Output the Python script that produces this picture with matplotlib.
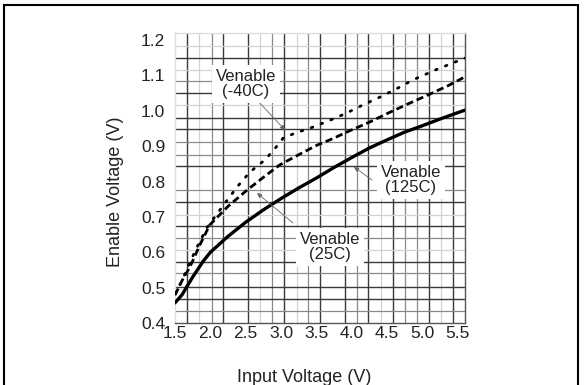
import numpy as np
import matplotlib.pyplot as plt
from matplotlib.patches import Rectangle

plt.rcParams['font.family'] = ['Liberation Sans', 'DejaVu Sans']

# input voltage (V) and enable voltage (V)
vin_25 = [1.50, 1.60, 1.75, 1.90, 2.00, 2.25, 2.50, 2.75, 3.00, 3.25, 3.50,
          3.75, 4.00, 4.25, 4.50, 4.75, 5.00, 5.25, 5.60]
ven_25 = [0.457, 0.480, 0.530, 0.575, 0.600, 0.645, 0.685, 0.720, 0.752, 0.782, 0.810,
          0.840, 0.868, 0.895, 0.918, 0.940, 0.958, 0.977, 1.002]

vin_125 = [1.50, 1.60, 1.71, 1.85, 1.99, 2.25, 2.52, 2.75, 2.98, 3.25, 3.51,
           3.75, 3.93, 4.25, 4.55, 4.80, 5.08, 5.35, 5.60]
ven_125 = [0.479, 0.520, 0.558, 0.620, 0.677, 0.730, 0.776, 0.812, 0.847, 0.876, 0.903,
           0.923, 0.940, 0.968, 0.997, 1.020, 1.045, 1.070, 1.096]

vin_m40 = [1.50, 1.60, 1.68, 1.80, 1.95, 2.10, 2.24, 2.40, 2.56, 2.77, 2.90, 3.03,
           3.20, 3.45, 3.70, 3.93, 4.15, 4.40, 4.63, 4.86, 5.20, 5.60]
ven_m40 = [0.482, 0.520, 0.558, 0.610, 0.669, 0.710, 0.748, 0.790, 0.827, 0.861, 0.890, 0.923,
           0.937, 0.954, 0.974, 0.994, 1.016, 1.039, 1.062, 1.087, 1.117, 1.149]

x_ticks = [1.5, 2.0, 2.5, 3.0, 3.5, 4.0, 4.5, 5.0, 5.5]
y_ticks = [0.4, 0.5, 0.6, 0.7, 0.8, 0.9, 1.0, 1.1, 1.2]

W, H = 584, 385
L, R, T, B = 175, 465, 33, 323


def px_x(p):
    return (p - L) / (R - L)


def px_y(p):
    return (B - p) / (B - T)


fig = plt.figure(figsize=(W / 100, H / 100), dpi=100)
ax = fig.add_axes([L / W, 1 - B / H, (R - L) / W, (B - T) / H])
ax.set_xlim(1.5, 5.6)
ax.set_ylim(0.4, 1.22)

# irregular scanned-style grid (pixel positions)
v_dark = [187, 223, 248, 284, 320, 345, 368, 393, 429, 453]
v_mid = [212, 272, 308, 357, 405, 417]
v_light = [199, 260, 297, 381, 441]
h_dark = [58, 93, 118, 129, 166, 202, 226, 262, 287, 299]
h_mid = [81, 142, 155, 190, 238, 273, 311]
h_light = [46, 70, 105, 215, 250]

for lines, col, lw in [(v_light, '#d2d2d2', 0.9), (v_mid, '#8a8a8a', 0.9), (v_dark, '#3a3a3a', 1.0)]:
    for p in lines:
        ax.plot([px_x(p)] * 2, [0, 1], color=col, lw=lw, transform=ax.transAxes, zorder=1)
for lines, col, lw in [(h_light, '#d2d2d2', 0.9), (h_mid, '#8a8a8a', 0.9), (h_dark, '#3a3a3a', 1.0)]:
    for p in lines:
        ax.plot([0, 1], [px_y(p)] * 2, color=col, lw=lw, transform=ax.transAxes, zorder=1)

ax.plot(vin_25, ven_25, color='black', lw=2.4, solid_capstyle='round', zorder=4)
ax.plot(vin_125, ven_125, color='black', lw=2.0, linestyle=(0, (2.6, 1.4)), zorder=4)
ax.plot(vin_m40, ven_m40, color='black', lw=2.0, linestyle=(0, (0.6, 3.2)),
        dash_capstyle='round', zorder=4)

for s in ax.spines.values():
    s.set_color('#555555')
    s.set_linewidth(1.0)
ax.spines['left'].set_color('#dddddd')
ax.spines['top'].set_color('#dddddd')

ax.set_xticks(x_ticks)
ax.set_xticklabels(['%.1f' % v for v in x_ticks])
ax.set_yticks(y_ticks)
ax.set_yticklabels(['%.1f' % v for v in y_ticks])
ax.tick_params(axis='both', length=0, labelsize=12.5, colors='#222222')
ax.tick_params(axis='x', pad=2)
ax.tick_params(axis='y', pad=7)

box = dict(boxstyle='square,pad=0.25', facecolor='white', edgecolor='none')
labels = [
    ('Venable\n(-40C)', (246, 84), (257, 100), (285, 130)),
    ('Venable\n(125C)', (411, 180), (372, 180), (354, 167)),
    ('Venable\n(25C)', (330, 247), (293, 223), (257, 193)),
]
for txt, c, start, tip in labels:
    ax.annotate('', xy=(px_x(tip[0]), px_y(tip[1])), xycoords='axes fraction',
                xytext=(px_x(start[0]), px_y(start[1])), textcoords='axes fraction',
                arrowprops=dict(arrowstyle='-|>', color='#666666', lw=0.6,
                                mutation_scale=7, shrinkA=0, shrinkB=0), zorder=5)
    ax.text(px_x(c[0]), px_y(c[1]), txt, transform=ax.transAxes, ha='center', va='center',
            fontsize=12, color='#222222', linespacing=1.05, bbox=box, zorder=6)

fig.text(304 / W, 1 - 377 / H, 'Input Voltage (V)', ha='center', va='center',
         fontsize=13, color='#222222')
fig.text(115 / W, 1 - 192 / H, 'Enable Voltage (V)', ha='center', va='center',
         rotation=90, fontsize=13, color='#222222')

fig.patches.append(Rectangle((4 / W, -0.02), 574 / W, 1.02 - 5 / H, transform=fig.transFigure,
                             fill=False, edgecolor='black', lw=1.5))

fig.savefig('out.png', dpi=100)
